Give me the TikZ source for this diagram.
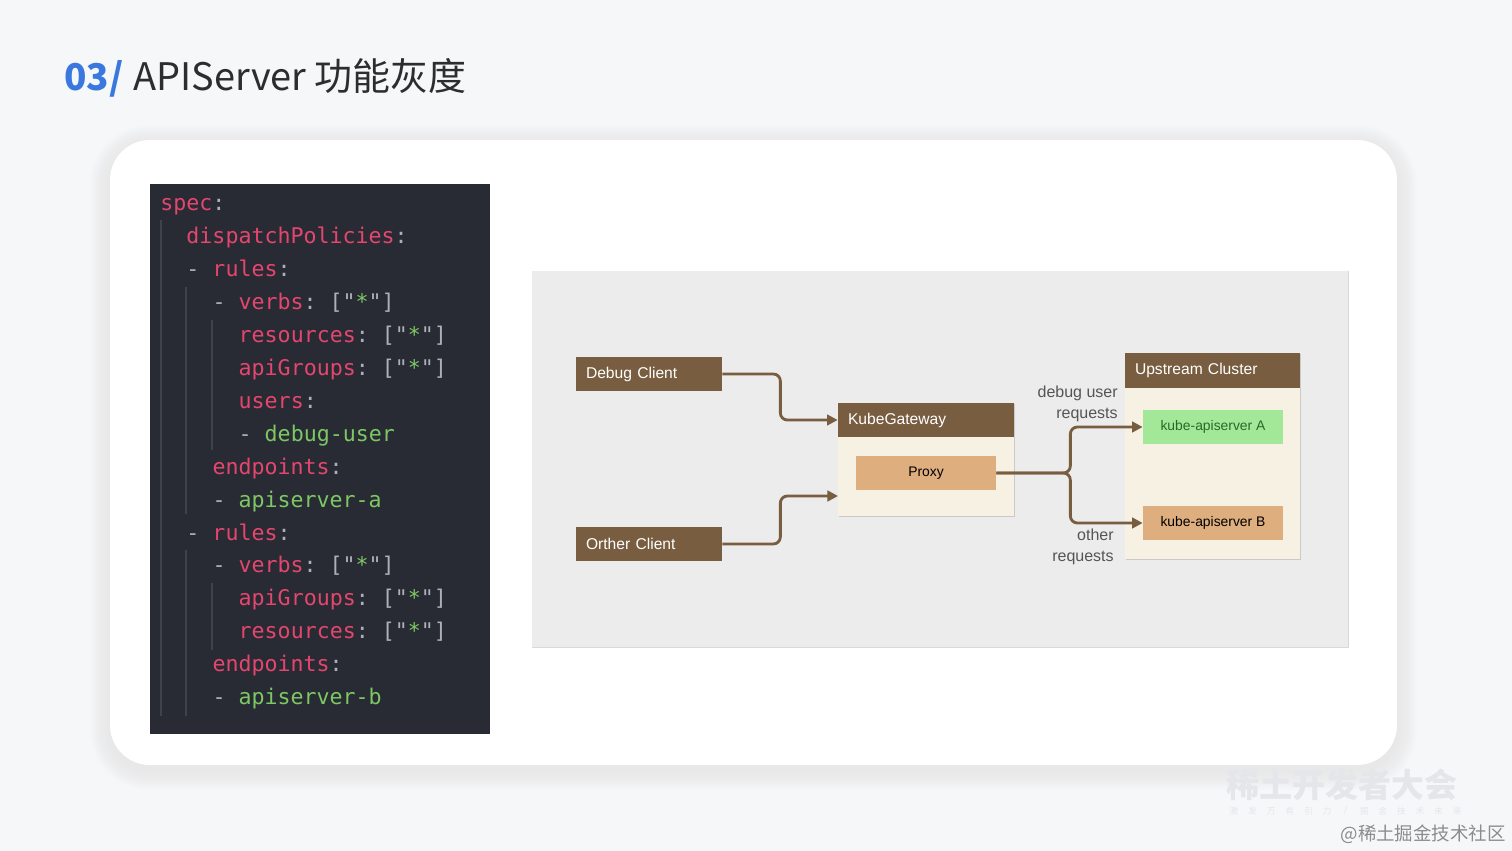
\documentclass[tikz,border=0pt]{standalone}
\usepackage{fontspec}
\setmainfont{Liberation Sans}
\newfontfamily\cjkfont{Noto Sans CJK SC}
\newfontfamily\codefont{DejaVu Sans Mono}
\usetikzlibrary{arrows.meta,shadows}
\frenchspacing

\definecolor{slidebg}{RGB}{246,247,249}
\definecolor{titleblue}{RGB}{58,120,224}
\definecolor{titlegray}{RGB}{45,45,48}
\definecolor{codebg}{RGB}{40,43,52}
\definecolor{codepink}{RGB}{228,70,110}
\definecolor{codegreen}{RGB}{125,200,100}
\definecolor{codegray}{RGB}{172,176,184}
\definecolor{codeguide}{RGB}{62,66,76}
\definecolor{panelgray}{RGB}{236,236,236}
\definecolor{kgbrown}{RGB}{120,93,64}
\definecolor{kgcream}{RGB}{246,241,226}
\definecolor{kgtan}{RGB}{222,174,126}
\definecolor{kggreen}{RGB}{162,232,152}
\definecolor{kggreentext}{RGB}{40,105,40}
\definecolor{lblgray}{RGB}{85,85,85}
\definecolor{markgray}{RGB}{228,230,234}

% one pixel of the slide
\newcommand{\pxl}{0.02cm}
% yaml pieces
\newcommand{\ky}[1]{\textcolor{codepink}{#1}\textcolor{codegray}{:}}
\newcommand{\vl}[1]{\textcolor{codegreen}{#1}}
\newcommand{\dsh}{\textcolor{codegray}{-}}
\newcommand{\strs}{\textcolor{codegray}{["}\textcolor{codegreen}{*}\textcolor{codegray}{"]}}
\newcommand{\slh}{/}

\tikzset{
  headbox/.style={fill=kgbrown, text=white, inner xsep=10*\pxl, inner ysep=0pt,
    minimum height=34*\pxl, align=left, font=\fontsize{8.9}{10}\selectfont},
  bodybox/.style={fill=kgcream, inner sep=0pt,
    drop shadow={shadow xshift=0.8pt, shadow yshift=-0.8pt, opacity=0.25, fill=black!60}},
  innerbox/.style={inner sep=0pt, minimum width=140*\pxl, minimum height=34*\pxl,
    font=\fontsize{7.9}{9}\selectfont},
  flow/.style={draw=kgbrown, line width=1.6pt, rounded corners=4pt,
    -{Triangle[length=6pt,width=6pt]}},
  reqlabel/.style={align=right, text=lblgray, inner sep=0pt,
    font=\fontsize{9.1}{11.9}\selectfont},
  codeline/.style={anchor=base west, inner sep=0pt,
    font=\codefont\fontsize{12.3}{14}\selectfont},
  guide/.style={draw=codeguide, line width=0.6pt},
}

\begin{document}
\begin{tikzpicture}[
    x={(0.02cm,0cm)},
    y={(0cm,-0.02cm)},
  ]
  % slide and card
  \fill[slidebg] (0,0) rectangle (1512,851);
  \useasboundingbox (0,0) rectangle (1512,851);
  \foreach \s in {1,...,10}{
    \fill[black!40, opacity=0.01, rounded corners=(40+\s*2)*\pxl]
      ({110-\s*2},{140-\s*2+5}) rectangle ({1397+\s*2},{765+\s*2+5});
  }
  \fill[white, rounded corners=40*\pxl] (110,140) rectangle (1397,765);

  % title
  \node[anchor=base west, inner sep=0pt, text=titleblue,
    font=\cjkfont\bfseries\fontsize{21}{24}\selectfont] (num) at (64,91) {03/};
  \node[anchor=base west, inner sep=0pt, text=titlegray,
    font=\cjkfont\fontsize{21.6}{24}\selectfont] (title) at (133,91) {APIServer 功能灰度};

  % yaml block
  \fill[codebg] (150,184) rectangle (490,734);
  \draw[guide] (161,220) -- (161,716);
  \draw[guide] (186,287) -- (186,514);
  \draw[guide] (186,550) -- (186,716);
  \draw[guide] (212,320) -- (212,450);
  \draw[guide] (212,583) -- (212,650);
  \foreach \row/\col/\txt in {
      0/0/{\ky{spec}},
      1/2/{\ky{dispatchPolicies}},
      2/2/{\dsh{} \ky{rules}},
      3/4/{\dsh{} \ky{verbs} \strs},
      4/6/{\ky{resources} \strs},
      5/6/{\ky{apiGroups} \strs},
      6/6/{\ky{users}},
      7/6/{\dsh{} \vl{debug-user}},
      8/4/{\ky{endpoints}},
      9/4/{\dsh{} \vl{apiserver-a}},
      10/2/{\dsh{} \ky{rules}},
      11/4/{\dsh{} \ky{verbs} \strs},
      12/6/{\ky{apiGroups} \strs},
      13/6/{\ky{resources} \strs},
      14/4/{\ky{endpoints}},
      15/4/{\dsh{} \vl{apiserver-b}}}{
    \node[codeline] (code\row) at ({160+\col*13.06},{211+\row*32.9}) {\txt};
  }

  % diagram panel
  \fill[panelgray] (532,271) rectangle (1348,647);
  \draw[panelgray!92!black, line width=0.4pt] (532,647) -- (1348,647) -- (1348,271);

  \node[headbox, text width=126*\pxl] (dbg) at (649,374) {Debug Client};
  \node[headbox, text width=126*\pxl] (oth) at (649,544) {Orther Client};

  \node[bodybox, minimum width=176*\pxl, minimum height=113*\pxl] (gw) at (926,459.5) {};
  \node[headbox, text width=156*\pxl] (gwhead) at (926,420) {KubeGateway};
  \node[innerbox, fill=kgtan] (proxy) at (926,473) {Proxy};
  \coordinate (gwin) at (838,496);

  \node[bodybox, minimum width=175*\pxl, minimum height=206*\pxl] (up) at (1212.5,456) {};
  \node[headbox, text width=155*\pxl, minimum height=35*\pxl] (uphead) at (1212.5,370.5) {Upstream Cluster};
  \node[innerbox, fill=kggreen, text=kggreentext] (srvA) at (1213,427) {kube-apiserver A};
  \node[innerbox, fill=kgtan] (srvB) at (1213,523) {kube-apiserver B};

  \draw[flow] (dbg.east) -- ++(58,0) |- (gwhead.west);
  \draw[flow] (oth.east) -- ++(58,0) |- (gwin);
  \draw[flow] (proxy.east) -- ++(74,0) |- (srvA.west);
  \draw[flow] (proxy.east) -- ++(74,0) |- (srvB.west);

  \node[reqlabel, anchor=east] (lbldbg) at (1118,404) {debug user\\requests};
  \node[reqlabel, anchor=east] (lbloth) at (1114,547) {other\\requests};

  % watermark
  \node[anchor=base west, inner sep=0pt, text=markgray,
    font=\cjkfont\bfseries\fontsize{18.8}{20}\selectfont] (mark) at (1226,797) {稀土开发者大会};
  \foreach \i/\ch in {0/激,1/发,2/万,3/有,4/引,5/力,6/\slh,7/掘,8/金,9/技,10/术,11/未,12/来}{
    \node[inner sep=0pt, text=markgray, font=\cjkfont\fontsize{5}{6}\selectfont]
      (sub\i) at ({1234+\i*18.6},811) {\ch};
  }
  \node[anchor=base east, inner sep=0pt, text=black!45,
    font=\cjkfont\fontsize{10.5}{12}\selectfont] (site) at (1506,840) {@稀土掘金技术社区};
\end{tikzpicture}
\end{document}
